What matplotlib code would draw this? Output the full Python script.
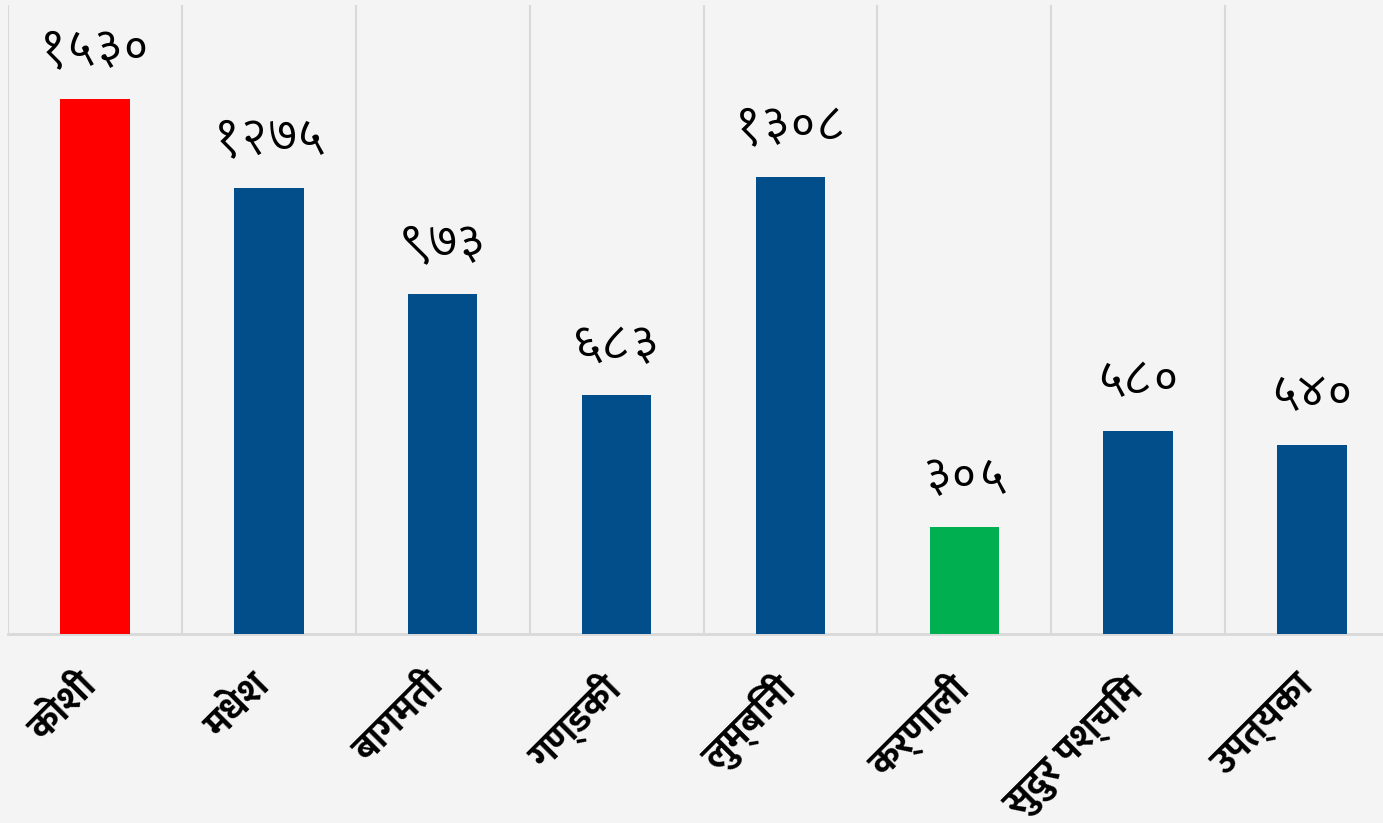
import matplotlib
matplotlib.use("Agg")
import matplotlib.pyplot as plt
import matplotlib.transforms as mtransforms
from matplotlib import font_manager
import numpy as np

# data
provinces = ["कोशी", "मधेश", "बागमती", "गण्डकी", "लुम्बिनी", "कर्णाली", "सुदुर पश्चिम", "उपत्यका"]
counts = [1530, 1275, 973, 683, 1308, 305, 580, 540]
count_labels = ["१५३०", "१२७५", "९७३", "६८३", "१३०८", "३०५", "५८०", "५४०"]
bar_colors = ["#FF0000", "#014E8B", "#014E8B", "#014E8B", "#014E8B", "#00AF50", "#014E8B", "#014E8B"]

names = set(f.name for f in font_manager.fontManager.ttflist)
num_fams = [f for f in ["Martel Sans", "Noto Sans Devanagari", "Noto Sans", "DejaVu Sans"] if f in names]
lab_fams = [f for f in ["Mukta", "Noto Sans Devanagari", "Noto Sans", "DejaVu Sans"] if f in names]

bg = "#F4F4F4"
grid_c = "#D9D9D9"

fig = plt.figure(figsize=(13.83, 8.23), dpi=100, facecolor=bg)
ax = fig.add_axes([8 / 1383, 1 - 634 / 823, 1391 / 1383, 629 / 823])
ax.set_facecolor(bg)

x = np.arange(len(provinces))
bars = ax.bar(x, counts, width=0.4, color=bar_colors, zorder=3)

for b, lab in zip(bars, count_labels):
    ax.annotate(lab, (b.get_x() + b.get_width() / 2, b.get_height()),
                xytext=(0, 20), textcoords="offset points", ha="center", va="bottom",
                fontsize=32, family=num_fams, color="black")

ax.set_xlim(-0.5, len(provinces) - 0.5)
ax.set_ylim(0, 1800)

# vertical separators between categories
for xv in np.arange(-0.5, len(provinces), 1.0):
    ax.axvline(xv, color=grid_c, lw=1.5, zorder=1)

for s in ["top", "right", "left"]:
    ax.spines[s].set_visible(False)
ax.spines["bottom"].set_color(grid_c)
ax.spines["bottom"].set_linewidth(2)

ax.set_yticks([])
ax.set_xticks(x)
ax.set_xticklabels(provinces, rotation=45, ha="right", va="top", rotation_mode="anchor",
                   fontsize=28, fontweight="bold", family=lab_fams)
ax.tick_params(axis="x", length=0, pad=24)
shift = mtransforms.ScaledTranslation(-17 / 100, 0, fig.dpi_scale_trans)
for t in ax.get_xticklabels():
    t.set_transform(t.get_transform() + shift)

fig.savefig("out.png", dpi=100, facecolor=bg)
